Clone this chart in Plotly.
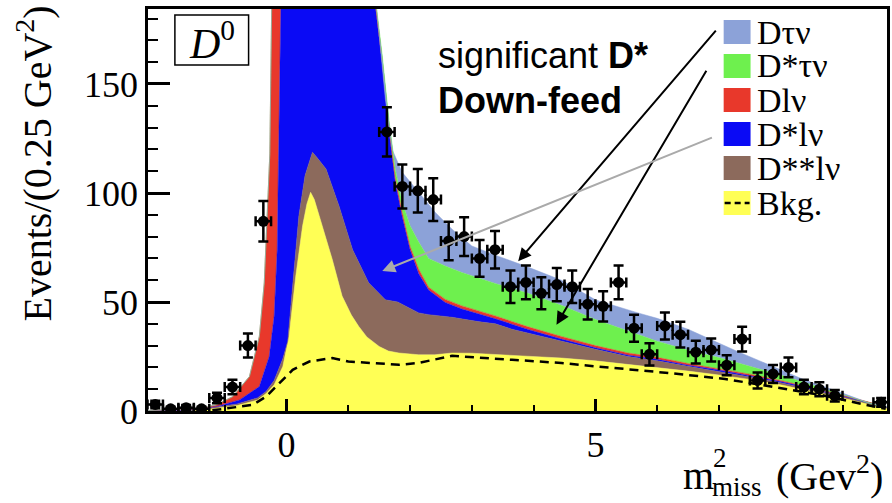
import plotly.graph_objects as go

# ---------------- data ----------------
# data points (bin centres, counts, stat errors)
pt_x = [-2.125, -1.875, -1.625, -1.375, -1.125, -0.875, -0.625, -0.375,
        1.625, 1.875, 2.125, 2.375, 2.625, 2.875, 3.125, 3.375, 3.625, 3.875,
        4.125, 4.375, 4.625, 4.875, 5.125, 5.375, 5.625, 5.875, 6.125, 6.375,
        6.625, 6.875, 7.125, 7.375, 7.625, 7.875, 8.125, 8.375, 8.625, 8.875, 9.625]
pt_y = [3, 1, 1.5, 1, 6, 11, 30, 87,
        128, 103, 101, 97, 78, 80, 70, 74, 57, 59,
        54, 58, 57, 49, 48, 59, 38, 26, 39, 35,
        27, 28, 21, 33, 14, 17, 20, 11, 10, 7, 4]
pt_err = [1.7, 1.0, 1.2, 1.0, 2.4, 3.3, 5.5, 9.3,
          11.3, 10.1, 10.0, 9.8, 8.8, 8.9, 8.4, 8.6, 7.5, 7.7,
          7.3, 7.6, 7.5, 7.0, 6.9, 7.7, 6.2, 5.1, 6.2, 5.9,
          5.2, 5.3, 4.6, 5.7, 3.7, 4.1, 4.5, 3.3, 3.2, 2.6, 2.0]
bin_half_width = 0.125

# upper edges of the stacked fit components (cumulative)
bkg_x = [-2.25, -1.5, -1.2, -0.8, -0.47, -0.33, -0.2, -0.06, 0.04, 0.15, 0.26, 0.33, 0.39,
         0.45, 0.53, 0.64, 0.74, 0.9, 1.05, 1.17, 1.3, 1.5, 1.65, 1.82, 2.14, 2.4, 2.68,
         3.0, 3.65, 4.45, 5.0, 5.5, 6.0, 6.5, 7.0, 7.5, 8.0, 8.5, 9.0, 9.5, 9.75]
bkg_top = [0, 0.2, 1.0, 2.5, 5.0, 8.0, 12.0, 20.4, 34.2, 61.9, 84.9, 95.0, 100.3,
           97.0, 89.5, 79.0, 69.6, 52.7, 44.0, 38.8, 34.0, 29.6, 27.5, 26.6, 25.8, 25.8, 26.6,
           26.5, 25.5, 24.3, 23.0, 21.5, 20.0, 18.3, 16.5, 14.5, 12.0, 9.0, 6.0, 2.5, 1.0]

dssl_x = [-2.25, -1.5, -1.2, -0.8, -0.47, -0.33, -0.2, -0.06, 0.02, 0.1, 0.2, 0.3, 0.42,
          0.5, 0.64, 0.85, 1.07, 1.33, 1.6, 1.8, 2.14, 2.3, 2.68, 3.1, 3.38, 3.65, 4.45,
          5.0, 5.53, 6.0, 6.5, 7.0, 7.5, 8.0, 8.5, 9.0, 9.5, 9.75]
dssl_top = [0, 0.4, 1.6, 3.2, 6.0, 9.0, 14.0, 24.0, 32.0, 58.8, 89.5, 108.0, 118.7,
            116.0, 111.0, 94.0, 74.0, 58.8, 51.0, 50.0, 45.0, 44.2, 43.0, 41.0, 40.0, 37.5, 32.0,
            28.3, 25.0, 23.0, 20.5, 18.2, 15.6, 13.0, 9.9, 6.6, 3.0, 1.2]

dsl_x = [-2.25, -1.5, -1.14, -0.76, -0.44, -0.28, -0.2, -0.15, -0.13, -0.09, -0.05, 0.4,
         1.2, 1.44, 1.55, 1.66, 1.76, 1.87, 2.0, 2.14, 2.3, 2.57, 2.84, 3.38, 3.91, 4.45,
         5.0, 5.53, 6.0, 6.5, 7.0, 7.5, 8.0, 8.5, 9.0, 9.5, 9.75]
dsl_top = [0, 0.6, 2.0, 5.1, 11.2, 25.0, 43.5, 74.0, 115.0, 185.0, 260.0, 450.0,
           300.0, 185.0, 158.7, 128.0, 105.0, 89.5, 74.0, 63.0, 55.5, 49.8, 46.8, 42.3, 37.4, 33.0,
           29.0, 25.6, 23.7, 21.0, 18.8, 16.2, 13.5, 10.4, 7.0, 3.3, 1.4]

dl_x = [-2.25, -1.41, -1.14, -0.87, -0.6, -0.44, -0.36, -0.31, -0.27, -0.24, -0.2, 0.4,
        1.2, 1.44, 1.55, 1.66, 1.76, 1.87, 2.0, 2.14, 2.3, 2.57, 2.84, 3.38, 3.91, 4.45,
        5.0, 5.53, 6.0, 6.5, 7.0, 7.5, 8.0, 8.5, 9.0, 9.5, 9.75]
dl_top = [0.2, 1.2, 2.8, 6.6, 15.8, 34.2, 58.8, 89.5, 118.0, 185.0, 300.0, 500.0,
          320.0, 187.0, 160.5, 130.0, 107.0, 91.5, 75.5, 65.0, 56.8, 51.2, 48.2, 43.6, 38.6, 34.2,
          30.0, 26.6, 24.6, 21.8, 19.5, 16.9, 14.0, 10.8, 7.3, 3.5, 1.5]

dstau_x = [-2.25, -1.41, -1.14, -0.87, -0.6, -0.44, -0.36, -0.31, -0.27, -0.24, -0.2, 0.4,
           1.2, 1.44, 1.55, 1.66, 1.76, 1.87, 2.0, 2.14, 2.3, 2.57, 2.84, 3.38, 3.91, 4.45,
           5.0, 5.5, 6.0, 6.5, 7.0, 7.5, 8.0, 8.5, 9.0, 9.5, 9.75]
dstau_top = [0.2, 1.2, 2.8, 6.6, 15.8, 34.2, 58.8, 89.5, 118.0, 185.0, 300.0, 500.0,
             322.0, 189.0, 163.0, 133.0, 111.0, 96.0, 85.0, 77.5, 70.0, 66.5, 63.5, 58.5, 54.0, 48.5,
             42.0, 37.0, 32.0, 28.0, 24.5, 20.5, 16.5, 12.0, 7.5, 3.0, 1.7]

dtau_x = [-2.25, -1.41, -1.14, -0.87, -0.6, -0.44, -0.36, -0.31, -0.27, -0.24, -0.2, 0.4,
          1.2, 1.44, 1.5, 1.6, 1.71, 1.87, 2.14, 2.41, 2.68, 3.0, 3.38, 3.91, 4.45,
          5.0, 5.69, 6.0, 6.5, 7.3, 8.0, 8.38, 9.0, 9.45, 9.75]
dtau_top = [0.2, 1.2, 2.8, 6.6, 15.8, 34.2, 58.8, 89.5, 118.0, 185.0, 300.0, 500.0,
            324.0, 190.0, 171.0, 143.0, 120.0, 109.6, 100.3, 91.0, 83.4, 75.7, 71.5, 66.0, 60.0,
            51.0, 45.0, 42.5, 37.5, 27.3, 18.9, 14.3, 8.2, 3.5, 1.8]

# sub-component of the background drawn as dashed line
dash_x = [-1.2, -0.87, -0.55, -0.33, -0.12, 0.1, 0.37, 0.74, 1.0, 1.39, 1.82, 2.13, 2.68,
          3.65, 4.45, 5.0, 5.69, 6.2, 7.1, 7.84, 8.65, 9.35, 9.7]
dash_y = [0.3, 1.4, 2.8, 6.6, 12.7, 18.9, 22.7, 24.3, 22.7, 21.9, 21.2, 22.0, 25.3,
          23.5, 22.0, 20.5, 18.9, 17.4, 14.7, 11.2, 7.4, 3.0, 1.0]

legend_labels = ["D\u03c4\u03bd", "D*\u03c4\u03bd", "Dl\u03bd", "D*l\u03bd", "D**l\u03bd", "Bkg."]
colors = {"bkg": "#FFFF55", "dssl": "#8C6A5C", "dsl": "#0A0AF5", "dl": "#E8382B",
          "dstau": "#6EF04E", "dtau": "#8CA2D8"}

# ---------------- figure ----------------
W, H = 892, 503
L, R, T, B = 148, 2, 9, 92
XR = [-2.242, 9.72]
YR = [0, 184.4]

fig = go.Figure()

stack = [("bkg", bkg_x, bkg_top), ("dssl", dssl_x, dssl_top), ("dsl", dsl_x, dsl_top),
         ("dl", dl_x, dl_top), ("dstau", dstau_x, dstau_top), ("dtau", dtau_x, dtau_top)]
for i, (key, xs, ys) in enumerate(stack):
    fig.add_trace(go.Scatter(x=xs, y=ys, mode="lines",
                             line=dict(color=colors[key], width=0.5),
                             fill="tozeroy" if i == 0 else "tonexty",
                             fillcolor=colors[key], showlegend=False, hoverinfo="skip"))

fig.add_trace(go.Scatter(x=dash_x, y=dash_y, mode="lines",
                         line=dict(color="black", width=2.5, dash="9px,6px"),
                         showlegend=False, hoverinfo="skip"))

fig.add_trace(go.Scatter(x=pt_x, y=pt_y, mode="markers",
                         marker=dict(color="black", size=11),
                         error_y=dict(type="data", array=pt_err, color="black", thickness=2.5, width=5),
                         error_x=dict(type="constant", value=bin_half_width, color="black", thickness=2.5, width=5),
                         showlegend=False, cliponaxis=True))


def px2paper(px, py):
    return (px - L) / (W - L - R), (H - B - py) / (H - T - B)

shapes = []
annotations = []

# D0 box
x0, y0 = px2paper(175, 15)
x1, y1 = px2paper(249, 65)
shapes.append(dict(type="rect", xref="paper", yref="paper", x0=x0, x1=x1, y0=y1, y1=y0,
                   line=dict(color="black", width=1.5), fillcolor="white"))
cx, cy = px2paper(212, 41)
annotations.append(dict(xref="paper", yref="paper", x=cx, y=cy, showarrow=False,
                        text="<i>D</i><sup>0</sup>", xanchor="center", yanchor="middle",
                        font=dict(family="Liberation Serif", size=42, color="black")))

# manual legend
leg_keys = ["dtau", "dstau", "dl", "dsl", "dssl", "bkg"]
leg_y = [32, 66, 100, 134, 168, 203]
for key, lab, yc in zip(leg_keys, legend_labels, leg_y):
    a0, b0 = px2paper(726, yc - 12)
    a1, b1 = px2paper(753, yc + 12)
    shapes.append(dict(type="rect", xref="paper", yref="paper", x0=a0, x1=a1, y0=b1, y1=b0,
                       line=dict(width=0), fillcolor=colors[key]))
    tx, ty = px2paper(757, yc)
    annotations.append(dict(xref="paper", yref="paper", x=tx, y=ty, showarrow=False,
                            text=lab, xanchor="left", yanchor="middle",
                            font=dict(family="Liberation Serif", size=34, color="black")))
# dashed line in the Bkg legend symbol
a0, b0 = px2paper(727, 203)
a1, _ = px2paper(752, 203)
shapes.append(dict(type="line", xref="paper", yref="paper", x0=a0, x1=a1, y0=b0, y1=b0,
                   line=dict(color="black", width=2.5, dash="6px,4px")))

# text
tx, ty = px2paper(437, 56)
annotations.append(dict(xref="paper", yref="paper", x=tx, y=ty, showarrow=False,
                        text="significant <b>D*</b>", xanchor="left", yanchor="middle",
                        font=dict(family="Liberation Sans", size=36, color="black")))
tx, ty = px2paper(437, 100)
annotations.append(dict(xref="paper", yref="paper", x=tx, y=ty, showarrow=False,
                        text="<b>Down-feed</b>", xanchor="left", yanchor="middle",
                        font=dict(family="Liberation Sans", size=36, color="black")))

# arrows drawn as lines with arrowheads (head, tail) in data coordinates
arrows = [((3.75, 68.7), (6.97, 175.2), "black"),
          ((4.37, 39.6), (6.81, 156.8), "black"),
          ((1.55, 64.2), (6.91, 125.7), "#AAAAAA")]
for (hx, hy), (tx_, ty_), col in arrows:
    annotations.append(dict(x=hx, y=hy, ax=tx_, ay=ty_, xref="x", yref="y", axref="x", ayref="y",
                            showarrow=True, arrowhead=2, arrowsize=1.3, arrowwidth=2,
                            arrowcolor=col, text=""))

# axis titles
tx, ty = px2paper(34, 163)
annotations.append(dict(xref="paper", yref="paper", x=tx, y=ty, showarrow=False, textangle=-90,
                        text="Events/(0.25 GeV<sup>2</sup>)", xanchor="center", yanchor="middle",
                        font=dict(family="Liberation Serif", size=40, color="black")))
tx, ty = px2paper(683, 475)
annotations.append(dict(xref="paper", yref="paper", x=tx, y=ty, showarrow=False,
                        text="m", xanchor="left", yanchor="middle",
                        font=dict(family="Liberation Serif", size=40, color="black")))
tx, ty = px2paper(713, 458)
annotations.append(dict(xref="paper", yref="paper", x=tx, y=ty, showarrow=False,
                        text="2", xanchor="left", yanchor="middle",
                        font=dict(family="Liberation Serif", size=27, color="black")))
tx, ty = px2paper(712, 487)
annotations.append(dict(xref="paper", yref="paper", x=tx, y=ty, showarrow=False,
                        text="miss", xanchor="left", yanchor="middle",
                        font=dict(family="Liberation Serif", size=27, color="black")))
tx, ty = px2paper(888, 473)
annotations.append(dict(xref="paper", yref="paper", x=tx, y=ty, showarrow=False,
                        text="(Gev<sup>2</sup>)", xanchor="right", yanchor="middle",
                        font=dict(family="Liberation Serif", size=40, color="black")))

fig.update_layout(
    width=W, height=H, margin=dict(l=L, r=R, t=T, b=B),
    paper_bgcolor="white", plot_bgcolor="white",
    shapes=shapes, annotations=annotations, showlegend=False,
    xaxis=dict(range=XR, showgrid=False, zeroline=False, showline=True, linecolor="black",
               linewidth=2.5, mirror=True, ticks="inside", ticklen=12, tickwidth=2.5,
               tickcolor="black", tick0=0, dtick=5,
               minor=dict(ticks="inside", ticklen=6, tickwidth=2, tickcolor="black", dtick=1),
               tickfont=dict(family="Liberation Serif", size=36, color="black")),
    yaxis=dict(range=YR, showgrid=False, zeroline=False, showline=True, linecolor="black",
               linewidth=2.5, mirror=True, ticks="inside", ticklen=22, tickwidth=2.5,
               tickcolor="black", tick0=0, dtick=50,
               minor=dict(ticks="inside", ticklen=10, tickwidth=2, tickcolor="black", dtick=10),
               tickfont=dict(family="Liberation Serif", size=36, color="black")),
)

fig.write_html("out.html")
